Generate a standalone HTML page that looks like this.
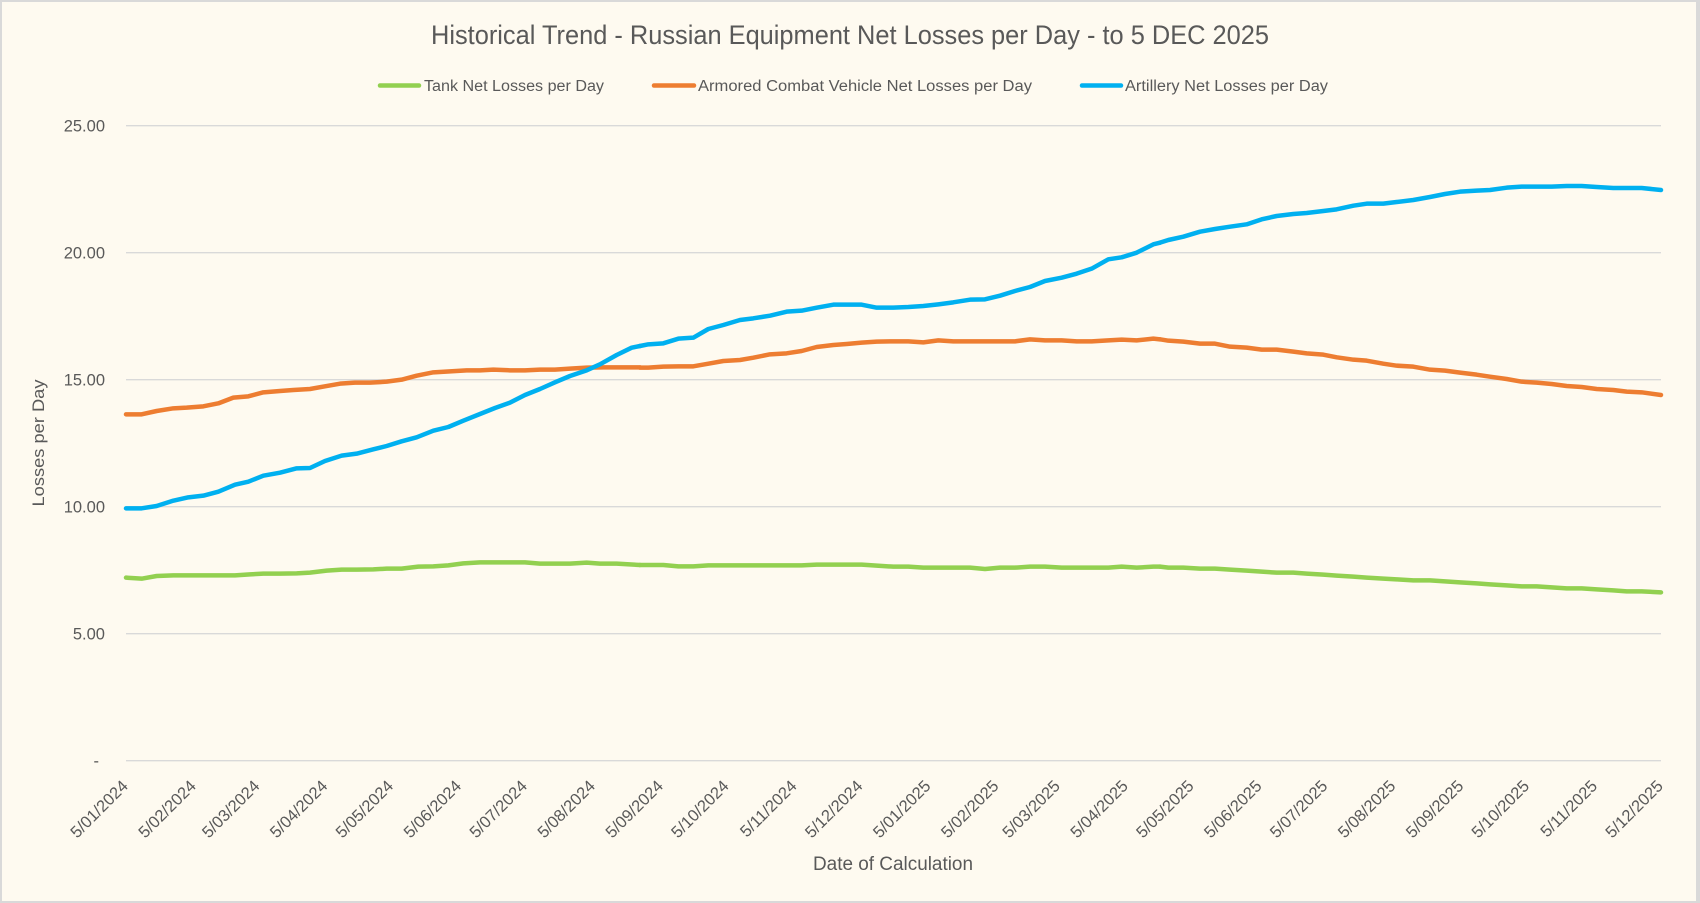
<!DOCTYPE html>
<html>
<head>
<meta charset="utf-8">
<style>
  html,body{margin:0;padding:0;background:#FEFAF0;}
  svg{display:block;}
  text{font-family:"Liberation Sans",Arial,sans-serif;fill:#595959;}
</style>
</head>
<body>
<svg width="1700" height="903" viewBox="0 0 1700 903" xmlns="http://www.w3.org/2000/svg">
  <rect x="0" y="0" width="1700" height="903" fill="#D9D9D9"/>
  <rect x="2" y="2" width="1694" height="899" fill="#FEFAF0"/>

  <!-- Title -->
  <text x="850" y="44" font-size="27" text-anchor="middle" textLength="838" lengthAdjust="spacingAndGlyphs">Historical Trend - Russian Equipment Net Losses per Day - to 5 DEC 2025</text>

  <!-- Legend -->
  <g stroke-width="4.5" stroke-linecap="round">
    <line x1="380" y1="85.5" x2="419" y2="85.5" stroke="#92D050"/>
    <line x1="654" y1="85.5" x2="694" y2="85.5" stroke="#ED7D31"/>
    <line x1="1082" y1="85.5" x2="1121" y2="85.5" stroke="#00B0F0"/>
  </g>
  <text x="424" y="91" font-size="15.5" textLength="180" lengthAdjust="spacingAndGlyphs">Tank Net Losses per Day</text>
  <text x="698" y="91" font-size="15.5" textLength="334" lengthAdjust="spacingAndGlyphs">Armored Combat Vehicle Net Losses per Day</text>
  <text x="1125" y="91" font-size="15.5" textLength="203" lengthAdjust="spacingAndGlyphs">Artillery Net Losses per Day</text>

  <!-- Gridlines -->
  <g stroke="#D9D9D9" stroke-width="1.4">
    <line x1="126" y1="125.7" x2="1661" y2="125.7"/>
    <line x1="126" y1="252.7" x2="1661" y2="252.7"/>
    <line x1="126" y1="379.7" x2="1661" y2="379.7"/>
    <line x1="126" y1="506.7" x2="1661" y2="506.7"/>
    <line x1="126" y1="633.7" x2="1661" y2="633.7"/>
    <line x1="126" y1="760.7" x2="1661" y2="760.7"/>
  </g>

  <!-- Y tick labels -->
  <g font-size="16.5" text-anchor="end">
    <text x="105" y="131.5">25.00</text>
    <text x="105" y="258.5">20.00</text>
    <text x="105" y="385.5">15.00</text>
    <text x="105" y="512.5">10.00</text>
    <text x="105" y="639.5">5.00</text>
    <text x="99" y="766.5">-</text>
  </g>

  <!-- Y axis title -->
  <text transform="translate(44,443) rotate(-90)" font-size="17" text-anchor="middle" textLength="127" lengthAdjust="spacingAndGlyphs">Losses per Day</text>

  <!-- X tick labels -->
  <g font-size="16.5" text-anchor="end">
    <text transform="translate(129,787) rotate(-45)">5/01/2024</text>
    <text transform="translate(197,787) rotate(-45)">5/02/2024</text>
    <text transform="translate(260.6,787) rotate(-45)">5/03/2024</text>
    <text transform="translate(328.5,787) rotate(-45)">5/04/2024</text>
    <text transform="translate(394.3,787) rotate(-45)">5/05/2024</text>
    <text transform="translate(462.3,787) rotate(-45)">5/06/2024</text>
    <text transform="translate(528.1,787) rotate(-45)">5/07/2024</text>
    <text transform="translate(596.1,787) rotate(-45)">5/08/2024</text>
    <text transform="translate(664.1,787) rotate(-45)">5/09/2024</text>
    <text transform="translate(729.8,787) rotate(-45)">5/10/2024</text>
    <text transform="translate(797.8,787) rotate(-45)">5/11/2024</text>
    <text transform="translate(863.6,787) rotate(-45)">5/12/2024</text>
    <text transform="translate(931.6,787) rotate(-45)">5/01/2025</text>
    <text transform="translate(999.6,787) rotate(-45)">5/02/2025</text>
    <text transform="translate(1061,787) rotate(-45)">5/03/2025</text>
    <text transform="translate(1129,787) rotate(-45)">5/04/2025</text>
    <text transform="translate(1194.8,787) rotate(-45)">5/05/2025</text>
    <text transform="translate(1262.7,787) rotate(-45)">5/06/2025</text>
    <text transform="translate(1328.5,787) rotate(-45)">5/07/2025</text>
    <text transform="translate(1396.5,787) rotate(-45)">5/08/2025</text>
    <text transform="translate(1464.5,787) rotate(-45)">5/09/2025</text>
    <text transform="translate(1530.2,787) rotate(-45)">5/10/2025</text>
    <text transform="translate(1598.2,787) rotate(-45)">5/11/2025</text>
    <text transform="translate(1664,787) rotate(-45)">5/12/2025</text>
  </g>

  <!-- X axis title -->
  <text x="893" y="870" font-size="19" text-anchor="middle" textLength="160" lengthAdjust="spacingAndGlyphs">Date of Calculation</text>

  <!-- Series: segment 1 (x 120-640) -->
  <g transform="translate(120,175) scale(0.333333)" fill="none" stroke-width="13.5" stroke-linejoin="round" stroke-linecap="round">
    <path stroke="#92D050" d="M18,1208 L65,1211 L110,1203 L160,1201 L200,1201 L250,1201 L300,1201 L345,1201 L390,1198 L430,1196 L480,1196 L530,1195 L570,1193 L620,1187 L665,1184 L710,1184 L760,1183 L800,1181 L845,1181 L895,1175 L940,1174 L985,1171 L1030,1165 L1080,1162 L1125,1162 L1170,1162 L1215,1162 L1260,1166 L1305,1166 L1350,1166 L1400,1163 L1440,1166 L1490,1166 L1560,1170"/>
    <path stroke="#ED7D31" d="M18,718 L65,718 L110,708 L160,700 L200,698 L250,694 L295,685 L340,668 L385,664 L430,652 L480,648 L520,645 L570,642 L615,634 L660,626 L705,623 L750,623 L800,620 L845,614 L890,602 L940,592 L990,589 L1040,586 L1080,586 L1120,584 L1170,586 L1215,586 L1260,584 L1305,584 L1350,581 L1400,578 L1450,577 L1500,577 L1560,577"/>
    <path stroke="#00B0F0" d="M18,1000 L65,1000 L110,993 L160,977 L205,967 L250,962 L295,950 L345,929 L385,920 L430,902 L480,893 L530,880 L570,879 L615,858 L665,842 L710,836 L760,823 L800,813 L845,799 L890,787 L940,767 L985,756 L1030,737 L1080,717 L1125,699 L1170,683 L1215,660 L1260,642 L1305,622 L1350,603 L1400,586 L1440,568 L1490,540 L1535,518 L1560,513"/>
  </g>

  <!-- Series: segment 2 (x 640-1160) -->
  <g transform="translate(640,175) scale(0.333333)" fill="none" stroke-width="13.5" stroke-linejoin="round" stroke-linecap="round">
    <path stroke="#92D050" d="M0,1170 L70,1170 L115,1174 L160,1174 L205,1171 L250,1171 L300,1171 L440,1171 L485,1171 L530,1169 L580,1169 L665,1169 L710,1172 L760,1175 L805,1175 L850,1178 L895,1178 L990,1178 L1035,1182 L1080,1178 L1125,1178 L1170,1175 L1215,1175 L1265,1178 L1310,1178 L1355,1178 L1405,1178 L1445,1175 L1490,1178 L1540,1175 L1560,1175"/>
    <path stroke="#ED7D31" d="M0,578 L25,578 L70,575 L115,574 L160,574 L205,566 L250,558 L300,555 L340,548 L390,538 L440,535 L485,528 L530,516 L580,510 L620,507 L665,503 L710,500 L760,499 L805,499 L850,502 L895,496 L940,499 L990,499 L1035,499 L1080,499 L1125,499 L1170,493 L1215,496 L1265,496 L1310,499 L1355,499 L1405,496 L1445,494 L1490,496 L1540,491 L1560,493"/>
    <path stroke="#00B0F0" d="M0,513 L25,508 L70,505 L115,491 L160,488 L205,462 L250,450 L300,435 L340,430 L390,422 L440,410 L485,407 L530,398 L580,389 L620,389 L665,389 L710,398 L760,398 L805,396 L850,393 L895,388 L940,382 L990,374 L1035,373 L1080,362 L1125,348 L1170,336 L1215,318 L1265,308 L1310,296 L1355,281 L1405,253 L1445,247 L1490,233 L1540,208 L1560,203"/>
  </g>

  <!-- Series: segment 3 (x 1160-1661) -->
  <g transform="translate(1160,175) scale(0.333333)" fill="none" stroke-width="13.5" stroke-linejoin="round" stroke-linecap="round">
    <path stroke="#92D050" d="M0,1175 L25,1178 L70,1178 L120,1181 L165,1181 L210,1184 L260,1187 L305,1190 L350,1193 L400,1193 L440,1196 L490,1199 L530,1202 L580,1205 L620,1208 L670,1211 L710,1213 L760,1216 L810,1216 L855,1219 L900,1222 L950,1225 L990,1228 L1040,1231 L1085,1234 L1130,1234 L1175,1237 L1220,1240 L1265,1240 L1310,1243 L1360,1246 L1400,1249 L1445,1249 L1503,1252"/>
    <path stroke="#ED7D31" d="M0,493 L25,497 L70,500 L120,506 L165,506 L210,515 L260,518 L305,524 L350,524 L400,530 L440,535 L490,539 L530,547 L580,554 L620,557 L670,566 L710,572 L760,575 L810,584 L855,587 L900,593 L950,599 L990,605 L1040,612 L1085,620 L1130,623 L1175,627 L1220,633 L1265,636 L1310,642 L1360,645 L1400,650 L1445,652 L1503,660"/>
    <path stroke="#00B0F0" d="M0,203 L25,195 L70,185 L120,170 L165,162 L210,155 L260,148 L305,133 L350,123 L400,117 L440,114 L490,108 L530,103 L580,92 L620,86 L670,86 L710,81 L760,75 L810,66 L855,57 L900,50 L950,47 L990,45 L1040,38 L1085,35 L1130,35 L1175,35 L1220,33 L1265,33 L1310,36 L1360,39 L1400,39 L1445,39 L1503,45"/>
  </g>
</svg>
</body>
</html>
